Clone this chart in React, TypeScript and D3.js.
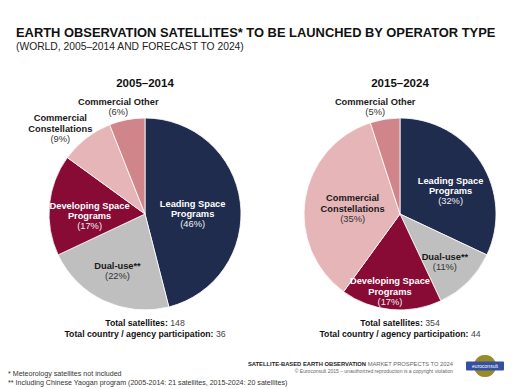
import React from 'react';
import * as d3 from 'd3';

const categories = [
  'Leading Space Programs',
  'Dual-use**',
  'Developing Space Programs',
  'Commercial Constellations',
  'Commercial Other',
];
const values2005 = [46, 22, 17, 9, 6];
const values2015 = [32, 11, 17, 35, 5];
const periods = ['2005–2014', '2015–2024'];
const totalSatellites = [148, 354];
const totalParticipation = [36, 44];

const colors = ['#1f2c4e', '#bfbfbf', '#870b35', '#e5b5b7', '#d0858a'];
const labelColors = ['#ffffff', '#1a1a1a', '#ffffff', '#1a1a1a', '#1a1a1a'];

// label placement: radius factor, nudge, line breaks
const lines: Record<string, string[]> = {
  'Leading Space Programs': ['Leading Space', 'Programs'],
  'Dual-use**': ['Dual-use**'],
  'Developing Space Programs': ['Developing Space', 'Programs'],
  'Commercial Constellations': ['Commercial', 'Constellations'],
  'Commercial Other': ['Commercial Other'],
};
const layoutLeft = [
  { k: 0.5, dx: 0, dy: 6 },
  { k: 0.6, dx: -3, dy: 5 },
  { k: 0.58, dx: 0, dy: 7 },
  { k: 1.1, dx: -20, dy: -2 },
  { k: 1.1, dx: -7, dy: -3 },
];
const layoutRight = [
  { k: 0.55, dx: 6, dy: 5 },
  { k: 0.75, dx: -6, dy: -3 },
  { k: 0.78, dx: -3, dy: 3 },
  { k: 0.5, dx: 0, dy: 2 },
  { k: 1.12, dx: -8, dy: -1 },
];

const font = "'Liberation Sans', Arial, sans-serif";
const R = 96;
const LH = 10.2;

function Pie({ cx, cy, values, layout, title, sats, parts }: any) {
  const pie = d3.pie<number>().sort(null).value(d => d);
  const arcs = pie(values);
  const arc = d3.arc<d3.PieArcDatum<number>>().innerRadius(0).outerRadius(R);
  return (
    <g>
      <text x={cx} y={87} textAnchor="middle" fontFamily={font} fontWeight="bold" fontSize={11.5} fill="#111">
        {title}
      </text>
      <g transform={`translate(${cx},${cy})`}>
        {arcs.map((a, i) => (
          <path key={i} d={arc(a) || ''} fill={colors[i]} stroke="#fff" strokeWidth={0.8} />
        ))}
        {arcs.map((a, i) => {
          const L = layout[i];
          const la = d3.arc<d3.PieArcDatum<number>>().innerRadius(R * L.k).outerRadius(R * L.k);
          const [x, y] = la.centroid(a);
          const ls = lines[categories[i]];
          const n = ls.length + 1;
          const y0 = y + L.dy - ((n - 1) * LH) / 2 + 3;
          return (
            <g key={'l' + i} fontFamily={font} fontSize={9.3} textAnchor="middle">
              {ls.map((t, j) => (
                <text key={j} x={x + L.dx} y={y0 + j * LH} fontWeight="bold" fill={labelColors[i]}>
                  {t}
                </text>
              ))}
              <text x={x + L.dx} y={y0 + ls.length * LH} fill={labelColors[i] === '#ffffff' ? '#f0f0f0' : '#333'}>
                ({a.data}%)
              </text>
            </g>
          );
        })}
      </g>
      <g fontFamily={font} fontSize={8.7} textAnchor="middle" fill="#111">
        <text x={cx} y={326}>
          <tspan fontWeight="bold">Total satellites: </tspan>
          <tspan fill="#444">{sats}</tspan>
        </text>
        <text x={cx} y={337}>
          <tspan fontWeight="bold">Total country / agency participation: </tspan>
          <tspan fill="#444">{parts}</tspan>
        </text>
      </g>
    </g>
  );
}

export default function App() {
  return (
    <svg width={518} height={389} style={{ position: 'absolute', left: 0, top: 0, background: '#fff' }}>
      <rect width={518} height={389} fill="#fff" />
      <text x={16} y={37} fontFamily={font} fontWeight="bold" fontSize={12.9} fill="#111">
        EARTH OBSERVATION SATELLITES* TO BE LAUNCHED BY OPERATOR TYPE
      </text>
      <text x={16} y={50} fontFamily={font} fontSize={10.3} fill="#222">
        (WORLD, 2005–2014 AND FORECAST TO 2024)
      </text>
      <Pie cx={145} cy={214} values={values2005} layout={layoutLeft} title={periods[0]} sats={totalSatellites[0]} parts={totalParticipation[0]} />
      <Pie cx={400} cy={214} values={values2015} layout={layoutRight} title={periods[1]} sats={totalSatellites[1]} parts={totalParticipation[1]} />
      <g fontFamily={font} fill="#333" fontSize={7.1}>
        <text x={8} y={376}>* Meteorology satellites not included</text>
        <text x={8} y={385}>** Including Chinese Yaogan program (2005-2014: 21 satellites, 2015-2024: 20 satellites)</text>
      </g>
      <g fontFamily={font} textAnchor="end">
        <text x={453} y={366} fontSize={5.8} fill="#333">
          <tspan fontWeight="bold" fill="#222">SATELLITE-BASED EARTH OBSERVATION </tspan>
          <tspan fill="#666">MARKET PROSPECTS TO 2024</tspan>
        </text>
        <text x={453} y={373} fontSize={5} fill="#666">
          © Euroconsult 2015 – unauthorized reproduction is a copyright violation
        </text>
      </g>
      <g transform="translate(485,366)">
        <circle r={11} fill="#6b7a2a" />
        <circle r={11} fill="#c89a2a" opacity={0.5} />
        <rect x={-19} y={-4.5} width={38} height={9} fill="#3550a0" rx={1} />
        <text x={0} y={2} textAnchor="middle" fontFamily={font} fontSize={5} fill="#fff">euroconsult</text>
      </g>
    </svg>
  );
}
